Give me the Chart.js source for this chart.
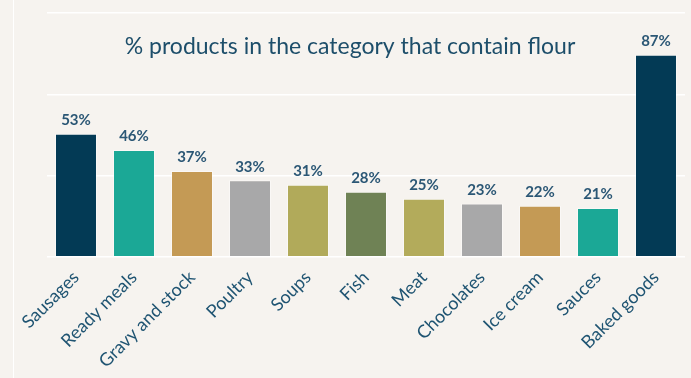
<!doctype html>
<html>

<head>
    <title>Flour chart</title>
    <script src="https://cdn.jsdelivr.net/npm/chart.js"></script>
    <style>
        body {
            margin: 0;
            padding: 0;
            background-color: #f6f3ef;
        }

        #wrap {
            width: 691px;
            height: 378px;
        }
    </style>
</head>

<body>
    <div id="wrap"><canvas id="grafico"></canvas></div>

    <script>
        var categorias = ['Sausages', 'Ready meals', 'Gravy and stock', 'Poultry', 'Soups', 'Fish', 'Meat', 'Chocolates', 'Ice cream', 'Sauces', 'Baked goods'];
        var valores = [53, 46, 37, 33, 31, 28, 25, 23, 22, 21, 87];
        var cores = ['#033a55', '#1ba896', '#c49a55', '#a8a8a9', '#b1aa5a', '#6f8255', '#b3ab5b', '#a8a8a9', '#c49a55', '#1ba896', '#033a55'];
        var titulo = '% products in the category that contain flour';

        var fonte = 'Lato, "Open Sans", sans-serif';

        var extras = {
            id: 'extras',
            beforeDraw(chart) {
                var ctx = chart.ctx;
                ctx.save();
                ctx.fillStyle = '#f6f3ef';
                ctx.fillRect(0, 0, chart.width, chart.height);
                ctx.strokeStyle = '#ffffff';
                ctx.lineWidth = 1;
                ctx.beginPath();
                ctx.moveTo(13.5, 0);
                ctx.lineTo(13.5, chart.height);
                ctx.stroke();
                ctx.restore();
            },
            afterDatasetsDraw(chart) {
                var ctx = chart.ctx;
                var meta = chart.getDatasetMeta(0);
                ctx.save();
                ctx.fillStyle = '#2b5775';
                ctx.font = 'bold 15px ' + fonte;
                ctx.textAlign = 'center';
                ctx.textBaseline = 'bottom';
                meta.data.forEach((bar, i) => {
                    ctx.fillText(valores[i] + '%', bar.x, bar.y - 6);
                });
                var area = chart.chartArea;
                ctx.fillStyle = '#1d4e6a';
                ctx.font = '23px ' + fonte;
                ctx.textBaseline = 'middle';
                ctx.fillText(titulo, 350, area.top + 34);
                ctx.restore();
            }
        };

        new Chart(document.getElementById('grafico').getContext('2d'), {
            type: 'bar',
            data: {
                labels: categorias,
                datasets: [{
                    data: valores,
                    backgroundColor: cores,
                    borderColor: 'rgba(255,255,255,0.45)',
                    borderWidth: 1,
                    barPercentage: 0.724,
                    categoryPercentage: 1
                }]
            },
            options: {
                responsive: true,
                maintainAspectRatio: false,
                animation: false,
                layout: {
                    padding: { left: 47, right: 6, top: 13, bottom: 4 }
                },
                plugins: {
                    legend: { display: false },
                    tooltip: { enabled: false }
                },
                scales: {
                    x: {
                        grid: { display: false },
                        border: { display: false },
                        ticks: {
                            color: '#1f5472',
                            font: { family: fonte, size: 18 },
                            minRotation: 45,
                            maxRotation: 45,
                            padding: 2
                        }
                    },
                    y: {
                        min: 0,
                        max: 105,
                        ticks: { display: false, stepSize: 35 },
                        border: { display: false },
                        grid: { color: '#ffffff', lineWidth: 1.5, drawTicks: false }
                    }
                }
            },
            plugins: [extras]
        });
    </script>
</body>

</html>
